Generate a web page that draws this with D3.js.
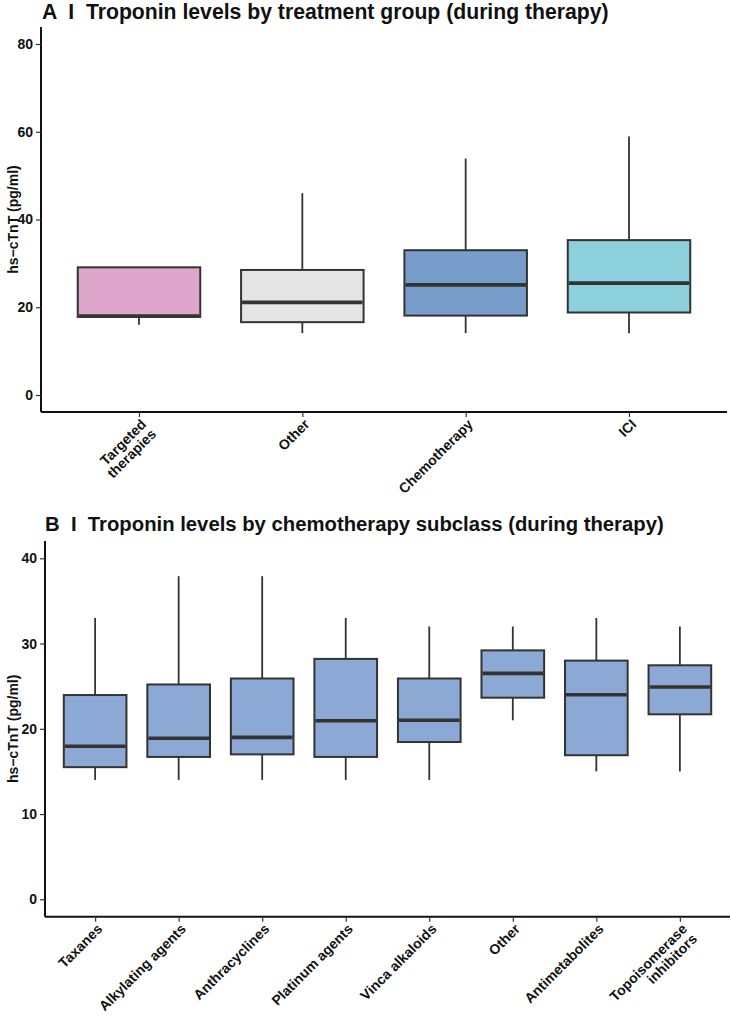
<!DOCTYPE html>
<html>
<head>
<meta charset="utf-8">
<script src="https://cdn.jsdelivr.net/npm/d3@7"></script>
<style>
  body { margin: 0; background: #fff; }
  text { font-family: "Liberation Sans", Arial, Helvetica, sans-serif; font-weight: bold; }
</style>
</head>
<body>
<svg id="chart" width="732" height="1016"></svg>
<script>
// panel A: treatment groups
const groupsA = ['Targeted\ntherapies', 'Other', 'Chemotherapy', 'ICI']
const minA = [16, 14.1, 14.1, 14.1]
const q1A = [17.8, 16.6, 18.1, 18.8]
const medA = [18, 21.1, 25.1, 25.5]
const q3A = [29.1, 28.5, 33, 35.3]
const maxA = [29.1, 46, 53.9, 58.9]
const colorsA = ['#DFA6CB', '#E5E5E5', '#779DCB', '#8CD0DC']
const ticksA = [0, 20, 40, 60, 80]

// panel B: chemotherapy subclasses
const groupsB = ['Taxanes', 'Alkylating agents', 'Anthracyclines', 'Platinum agents',
    'Vinca alkaloids', 'Other', 'Antimetabolites', 'Topoisomerase\ninhibitors']
const minB = [14, 14, 14, 14, 14, 21, 15, 15]
const q1B = [15.5, 16.7, 17, 16.7, 18.45, 23.65, 16.9, 21.7]
const medB = [17.95, 18.9, 19, 20.95, 21, 26.5, 24, 24.9]
const q3B = [23.96, 25.2, 25.9, 28.2, 25.9, 29.2, 28, 27.45]
const maxB = [33, 37.9, 37.9, 33, 32, 32, 33, 32]
const colorB = '#8CA9D5'
const ticksB = [0, 10, 20, 30, 40]

const svg = d3.select('#chart')

const drawPanel = (cfg) => {
    const g = svg.append('g')

    const x = d3.scalePoint()
        .domain(cfg.groups)
        .range([cfg.left, cfg.right])
        .padding(0.6)
    const step = x.step()
    const boxW = step * 0.75

    const y = d3.scaleLinear()
        .domain(cfg.yDomain)
        .range(cfg.yRange)

    const data = cfg.groups.map((name, i) => ({
        name, min: cfg.min[i], q1: cfg.q1[i], med: cfg.med[i], q3: cfg.q3[i], max: cfg.max[i],
        color: Array.isArray(cfg.color) ? cfg.color[i] : cfg.color
    }))

    // title
    g.append('text')
        .attr('x', cfg.titleX)
        .attr('y', cfg.titleY)
        .style('font-size', cfg.titleSize + 'px')
        .attr('fill', '#111')
        .attr('xml:space', 'preserve')
        .text(cfg.title)

    // boxes
    const box = g.selectAll('g.box')
        .data(data)
        .join('g')
        .classed('box', true)

    box.append('line')
        .attr('x1', d => x(d.name)).attr('x2', d => x(d.name))
        .attr('y1', d => y(d.max)).attr('y2', d => y(d.q3))
        .attr('stroke', '#333').attr('stroke-width', 1.8)
    box.append('line')
        .attr('x1', d => x(d.name)).attr('x2', d => x(d.name))
        .attr('y1', d => y(d.q1)).attr('y2', d => y(d.min))
        .attr('stroke', '#333').attr('stroke-width', 1.8)
    box.append('rect')
        .attr('x', d => x(d.name) - boxW / 2)
        .attr('width', boxW)
        .attr('y', d => y(d.q3))
        .attr('height', d => y(d.q1) - y(d.q3))
        .attr('fill', d => d.color)
        .attr('stroke', '#333').attr('stroke-width', 2)
    box.append('line')
        .attr('x1', d => x(d.name) - boxW / 2 + 1).attr('x2', d => x(d.name) + boxW / 2 - 1)
        .attr('y1', d => y(d.med)).attr('y2', d => y(d.med))
        .attr('stroke', '#333').attr('stroke-width', 3.6)

    // y axis
    const yAxis = g.append('g')
        .attr('transform', `translate(${cfg.left},0)`)
        .call(d3.axisLeft(y).tickValues(cfg.ticks).tickSize(5).tickPadding(3))
    yAxis.attr('font-size', null).attr('font-family', null)
    yAxis.select('.domain').attr('d', `M0,${cfg.axisTop}V${cfg.axisBottom}`)
        .attr('stroke', '#111').attr('stroke-width', 2)
    yAxis.selectAll('.tick line').attr('stroke', '#333').attr('stroke-width', 1.2)
    yAxis.selectAll('.tick text')
        .style('font-size', '14px')
        .attr('fill', '#111')

    // x axis
    const xAxis = g.append('g')
        .attr('transform', `translate(0,${cfg.axisBottom})`)
        .call(d3.axisBottom(x).tickSize(5).tickFormat(''))
    xAxis.select('.domain').attr('d', `M${cfg.left},0H${cfg.right}`)
        .attr('stroke', '#111').attr('stroke-width', 2)
    xAxis.selectAll('.tick line').attr('stroke', '#333').attr('stroke-width', 1.2)

    const labels = g.selectAll('text.xlab')
        .data(cfg.groups)
        .join('text')
        .classed('xlab', true)
        .attr('transform', d => `translate(${x(d) + 1},${cfg.axisBottom + 6}) rotate(-45)`)
        .attr('text-anchor', 'end')
        .style('font-size', '14px')
        .attr('fill', '#111')
    labels.each((d, i, nodes) => {
        const lines = d.split('\n')
        d3.select(nodes[i]).selectAll('tspan')
            .data(lines)
            .join('tspan')
            .attr('x', 0)
            .attr('dy', (l, j) => j === 0 ? '0.72em' : '1.0em')
            .text(l => l)
    })

    // y label
    g.append('text')
        .attr('transform', `translate(${cfg.yLabelX},${(cfg.axisTop + cfg.axisBottom) / 2}) rotate(-90)`)
        .attr('text-anchor', 'middle')
        .style('font-size', '14px')
        .attr('fill', '#111')
        .text('hs\u2212cTnT (pg/ml)')
}

drawPanel({
    title: 'A  I  Troponin levels by treatment group (during therapy)',
    titleX: 42, titleY: 19, titleSize: 21.2,
    groups: groupsA, min: minA, q1: q1A, med: medA, q3: q3A, max: maxA, color: colorsA,
    ticks: ticksA,
    left: 41, right: 727,
    yDomain: [0, 80], yRange: [395, 44],
    axisTop: 27, axisBottom: 412,
    yLabelX: 18
})

drawPanel({
    title: 'B  I  Troponin levels by chemotherapy subclass (during therapy)',
    titleX: 45, titleY: 531, titleSize: 20.3,
    groups: groupsB, min: minB, q1: q1B, med: medB, q3: q3B, max: maxB, color: colorB,
    ticks: ticksB,
    left: 45, right: 730,
    yDomain: [0, 40], yRange: [899.3, 558.3],
    axisTop: 541, axisBottom: 916.7,
    yLabelX: 18
})
</script>
</body>
</html>
